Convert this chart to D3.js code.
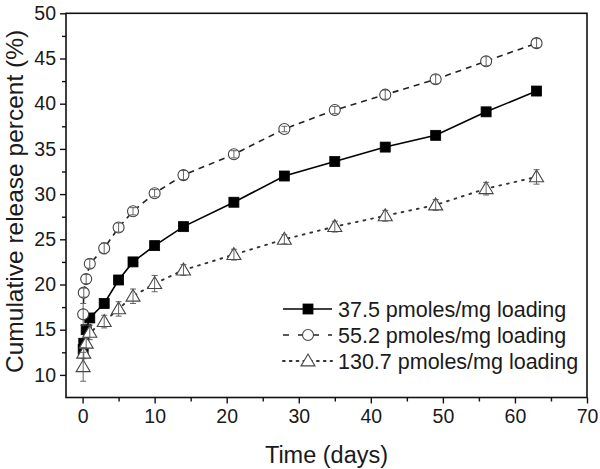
<!DOCTYPE html>
<html>
<head>
<meta charset="utf-8">
<script src="https://cdn.jsdelivr.net/npm/d3@7"></script>
<style>
  html, body { margin: 0; padding: 0; background: #fff; }
  svg { display: block; }
  text { font-family: "Liberation Sans", Arial, sans-serif; fill: #1a1a1a; }
</style>
</head>
<body>
<svg id="chart" width="600" height="469"></svg>
<script>
// ---- Data ----
const timeDays = [0.083, 0.167, 0.5, 1, 3, 5, 7, 10, 14, 21, 28, 35, 42, 49, 56, 63];
const load375 = [12.8, 13.5, 15.0, 16.3, 17.9, 20.5, 22.5, 24.3, 26.4, 29.1, 32.0, 33.6, 35.2, 36.5, 39.1, 41.4];
const load552 = [16.7, 19.1, 20.6, 22.3, 24.0, 26.3, 28.1, 30.1, 32.1, 34.4, 37.2, 39.3, 41.0, 42.7, 44.7, 46.7];
const load1307 = [10.9, 12.4, 13.5, 14.7, 15.9, 17.3, 18.7, 20.1, 21.6, 23.3, 25.0, 26.4, 27.6, 28.8, 30.6, 31.9];
const err375 = [0.3, 0.3, 0.3, 0.3, 0.3, 0.3, 0.3, 0.3, 0.3, 0.3, 0.3, 0.3, 0.3, 0.3, 0.3, 0.3];
const err552 = [1.2, 0.5, 0.5, 0.5, 0.6, 0.5, 0.4, 0.4, 0.5, 0.4, 0.3, 0.4, 0.5, 0.5, 0.5, 0.5];
const err1307 = [1.6, 0.6, 0.6, 0.8, 0.7, 0.8, 0.8, 0.9, 0.6, 0.6, 0.5, 0.6, 0.6, 0.6, 0.7, 0.8];
const seriesNames = ["37.5 pmoles/mg loading", "55.2 pmoles/mg loading", "130.7 pmoles/mg loading"];
const xTickValues = [0, 10, 20, 30, 40, 50, 60, 70];
const yTickValues = [10, 15, 20, 25, 30, 35, 40, 45, 50];
const xTitle = "Time (days)";
const yTitle = "Cumulative release percent (%)";

// ---- Layout ----
const svg = d3.select("#chart");
const L = 66, R = 587, T = 13.3, B = 397.5;
const x = d3.scaleLinear().domain([-2.3, 70]).range([L, R]);
const y = d3.scaleLinear().domain([7.5, 50]).range([B, T]);

const series = [
  { name: seriesNames[0], vals: load375, err: err375, marker: "square", dash: null, color: "#000", lw: 1.6 },
  { name: seriesNames[1], vals: load552, err: err552, marker: "circle", dash: "6,5", color: "#222", lw: 1.6 },
  { name: seriesNames[2], vals: load1307, err: err1307, marker: "triangle", dash: "1.8,6", color: "#333", lw: 1.9 }
];

// ---- Axes ----
const xMinor = d3.range(5, 70, 10);
const yMinor = d3.range(12.5, 50, 5);

const xAxis = svg.append("g").attr("transform", `translate(0,${B})`)
  .call(d3.axisBottom(x).tickValues(xTickValues).tickSize(6).tickPadding(5).tickFormat(d3.format("d")));
svg.append("g").attr("transform", `translate(0,${B})`)
  .call(d3.axisBottom(x).tickValues(xMinor).tickSize(4).tickFormat(""))
  .call(g => g.select(".domain").remove());
const yAxis = svg.append("g").attr("transform", `translate(${L},0)`)
  .call(d3.axisLeft(y).tickValues(yTickValues).tickSize(6).tickPadding(4).tickFormat(d3.format("d")));
svg.append("g").attr("transform", `translate(${L},0)`)
  .call(d3.axisLeft(y).tickValues(yMinor).tickSize(4).tickFormat(""))
  .call(g => g.select(".domain").remove());

svg.selectAll(".domain").remove();
svg.selectAll(".tick line").attr("stroke", "#111").attr("stroke-width", 1.4);
xAxis.selectAll("text").attr("font-size", 19.5).attr("dy", "0.75em").style("fill", "#1a1a1a");
yAxis.selectAll("text").attr("font-size", 19.5).style("fill", "#1a1a1a");

// Frame
svg.append("rect").attr("x", L).attr("y", T).attr("width", R - L).attr("height", B - T)
  .attr("fill", "none").attr("stroke", "#111").attr("stroke-width", 1.6);

// Titles
svg.append("text").attr("x", (L + R) / 2).attr("y", 463).attr("text-anchor", "middle")
  .attr("font-size", 23.5).text(xTitle);
svg.append("text").attr("transform", `translate(23,${(T + B) / 2 - 4}) rotate(-90)`)
  .attr("text-anchor", "middle").attr("font-size", 24.5).text(yTitle);

// ---- Marker drawing ----
function drawMarker(g, type, cx, cy, color) {
  if (type === "square") {
    g.append("rect").attr("x", cx - 5).attr("y", cy - 5).attr("width", 10).attr("height", 10)
      .attr("fill", "#000").attr("stroke", "#000").attr("stroke-width", 0.8);
  } else if (type === "circle") {
    g.append("circle").attr("cx", cx).attr("cy", cy).attr("r", 5.5)
      .attr("fill", "#fff").attr("stroke", "#444").attr("stroke-width", 1.1);
  } else {
    const s = 7;
    g.append("path").attr("d", `M${cx},${cy - s}L${cx + s},${cy + s * 0.7}L${cx - s},${cy + s * 0.7}Z`)
      .attr("fill", "#fff").attr("stroke", "#444").attr("stroke-width", 1.1);
  }
}

const plot = svg.append("g");
series.forEach(s => {
  const pts = timeDays.map((t, i) => ({ t, v: s.vals[i], e: s.err[i] }));
  const line = d3.line().x(d => x(d.t)).y(d => y(d.v));
  plot.append("path").datum(pts).attr("d", line).attr("fill", "none")
    .attr("stroke", s.color).attr("stroke-width", s.lw)
    .attr("stroke-dasharray", s.dash).attr("stroke-linecap", s.marker === "triangle" ? "round" : "butt");
});
series.forEach(s => {
  const g = plot.append("g");
  timeDays.forEach((t, i) => {
    drawMarker(g, s.marker, x(t), y(s.vals[i]), s.color);
  });
  if (s.marker !== "square") {
    timeDays.forEach((t, i) => {
      const cx = x(t), y1 = y(s.vals[i] - s.err[i]), y2 = y(s.vals[i] + s.err[i]);
      g.append("line").attr("x1", cx).attr("x2", cx).attr("y1", y1).attr("y2", y2)
        .attr("stroke", "#555").attr("stroke-width", 0.9);
      [y1, y2].forEach(yy => g.append("line").attr("x1", cx - 3).attr("x2", cx + 3)
        .attr("y1", yy).attr("y2", yy).attr("stroke", "#555").attr("stroke-width", 0.9));
    });
  }
});

// ---- Legend ----
const legendY = [309, 335, 361];
const leg = svg.append("g");
series.forEach((s, i) => {
  const ly = legendY[i];
  leg.append("line").attr("x1", 283).attr("x2", 332).attr("y1", ly).attr("y2", ly)
    .attr("stroke", s.color).attr("stroke-width", s.lw)
    .attr("stroke-dasharray", s.dash ? (s.marker === "circle" ? "6,9" : "1.8,5") : null)
    .attr("stroke-linecap", s.marker === "triangle" ? "round" : "butt");
  drawMarker(leg, s.marker, 308, ly, s.color);
  leg.append("text").attr("x", 338).attr("y", ly).attr("dy", "0.35em")
    .attr("font-size", 21.5).text(s.name);
});
</script>
</body>
</html>
